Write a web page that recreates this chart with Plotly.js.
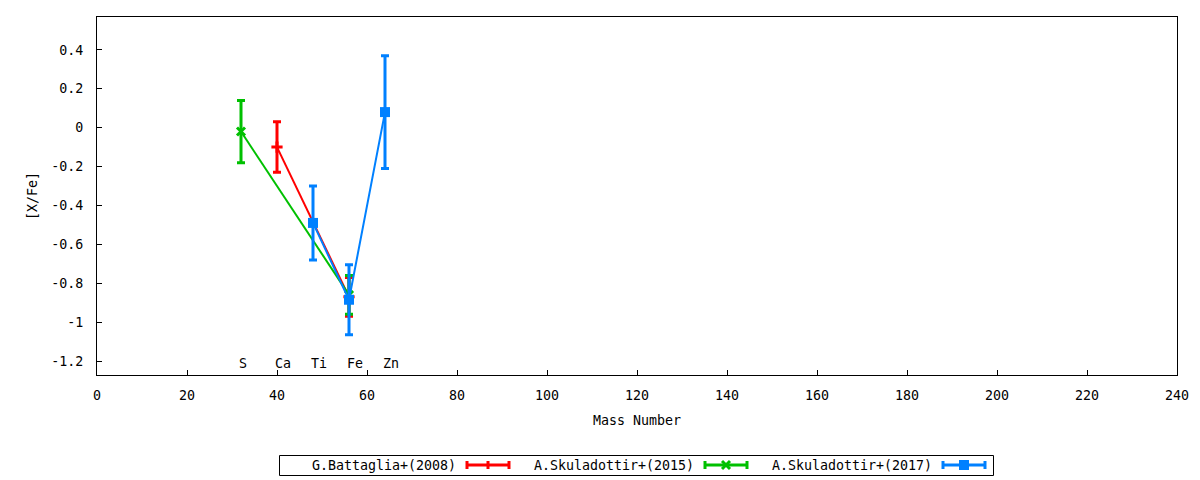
<!DOCTYPE html>
<html>
<head>
<meta charset="utf-8">
<script src="https://cdn.plot.ly/plotly-3.0.1.min.js"></script>
<style>html,body{margin:0;padding:0;background:#fff}#chart{width:1200px;height:480px}</style>
</head>
<body>
<div id="chart"></div>
<script>
// ---- data ----
const elementNames = ['S', 'Ca', 'Ti', 'Fe', 'Zn'];
const elementMass = [32, 40, 48, 56, 64];

const battagliaName = 'G.Battaglia+(2008)';
const battagliaMass = [40, 56];
const battagliaVal = [-0.10, -0.87];
const battagliaErr = [0.13, 0.10];

const skul2015Name = 'A.Skuladottir+(2015)';
const skul2015Mass = [32, 56];
const skul2015Val = [-0.02, -0.86];
const skul2015Err = [0.16, 0.10];

const skul2017Name = 'A.Skuladottir+(2017)';
const skul2017Mass = [48, 56, 64];
const skul2017Val = [-0.49, -0.885, 0.08];
const skul2017Err = [0.19, 0.18, 0.29];

const xTickVals = [0, 20, 40, 60, 80, 100, 120, 140, 160, 180, 200, 220, 240];
const yTickVals = [-1.2, -1, -0.8, -0.6, -0.4, -0.2, 0, 0.2, 0.4];
const yTickText = ['-1.2', '-1', '-0.8', '-0.6', '-0.4', '-0.2', '0', '0.2', '0.4'];

// ---- styles ----
const RED = '#ff0000', GREEN = '#00c000', BLUE = '#0080ff';
const FONT = 'DejaVu Sans Mono, monospace';
const FS = 13.3;
const M = {l: 97, r: 23, t: 17, b: 105};
const PW = 1200 - M.l - M.r, PH = 480 - M.t - M.b;
const px = x => (x - M.l) / PW;
const py = y => (480 - M.b - y) / PH;

function series(name, xs, ys, es, color, symbol, msize, mline) {
  return {
    type: 'scatter', mode: 'lines+markers', name: name,
    x: xs, y: ys,
    line: {color: color, width: 2},
    marker: {color: color, symbol: symbol, size: msize, line: {color: color, width: mline}},
    error_y: {type: 'data', array: es, visible: true, color: color, thickness: 3, width: 4},
    hoverinfo: 'skip', showlegend: false
  };
}

const traces = [
  series(battagliaName, battagliaMass, battagliaVal, battagliaErr, RED, 'cross-thin', 8, 3),
  series(skul2015Name, skul2015Mass, skul2015Val, skul2015Err, GREEN, 'x-thin', 8, 3),
  series(skul2017Name, skul2017Mass, skul2017Val, skul2017Err, BLUE, 'square', 10, 0)
];

const annotations = elementNames.map((n, i) => ({
  x: elementMass[i], y: -1.213, xref: 'x', yref: 'y', text: n, showarrow: false,
  xanchor: 'left', yanchor: 'middle', xshift: -4, font: {family: FONT, size: FS, color: '#000'}
}));

// manual legend (text first, then the sample, like the reference)
const shapes = [];
shapes.push({type: 'rect', xref: 'paper', yref: 'paper', x0: px(279.5), x1: px(993.5), y0: py(475.5), y1: py(455.5),
  line: {color: '#000', width: 1}, fillcolor: 'rgba(0,0,0,0)'});
const legendItems = [
  {name: battagliaName, color: RED, textEnd: 458, s0: 466, s1: 510, mark: 'plus'},
  {name: skul2015Name, color: GREEN, textEnd: 696, s0: 704, s1: 748, mark: 'x'},
  {name: skul2017Name, color: BLUE, textEnd: 934, s0: 942, s1: 986, mark: 'square'}
];
const LY = 465;
legendItems.forEach(it => {
  annotations.push({x: px(it.textEnd), y: py(LY), xref: 'paper', yref: 'paper', text: it.name, showarrow: false,
    xanchor: 'right', yanchor: 'middle', font: {family: FONT, size: FS, color: '#000'}});
  const L = (x0, y0, x1, y1, w) => shapes.push({type: 'line', xref: 'paper', yref: 'paper',
    x0: px(x0), y0: py(y0), x1: px(x1), y1: py(y1), line: {color: it.color, width: w || 3}});
  L(it.s0, LY, it.s1, LY);
  L(it.s0 + 1, LY - 4, it.s0 + 1, LY + 4);
  L(it.s1 - 1, LY - 4, it.s1 - 1, LY + 4);
  const c = (it.s0 + it.s1) / 2;
  if (it.mark === 'plus') L(c, LY - 4, c, LY + 4);
  if (it.mark === 'x') { L(c - 4, LY - 4, c + 4, LY + 4); L(c - 4, LY + 4, c + 4, LY - 4); }
  if (it.mark === 'square') shapes.push({type: 'rect', xref: 'paper', yref: 'paper',
    x0: px(c - 5), x1: px(c + 5), y0: py(LY + 5), y1: py(LY - 5), line: {width: 0}, fillcolor: it.color});
});

const layout = {
  width: 1200, height: 480,
  margin: M,
  paper_bgcolor: '#fff', plot_bgcolor: '#fff',
  font: {family: FONT, size: FS, color: '#000'},
  showlegend: false,
  xaxis: {
    range: [0, 240], tickvals: xTickVals, ticks: 'inside', ticklen: 5, tickcolor: '#000', tickwidth: 1,
    showline: true, mirror: true, linecolor: '#000', linewidth: 1, showgrid: false, zeroline: false,
    ticklabelstandoff: 8,
    title: {text: 'Mass Number', font: {family: FONT, size: FS}, standoff: 13},
    automargin: false
  },
  yaxis: {
    range: [-1.272, 0.569], tickvals: yTickVals, ticktext: yTickText, ticks: 'inside', ticklen: 5,
    tickcolor: '#000', tickwidth: 1,
    showline: true, mirror: true, linecolor: '#000', linewidth: 1, showgrid: false, zeroline: false,
    ticklabelstandoff: 10,
    title: {text: '[X/Fe]', font: {family: FONT, size: FS}, standoff: 10},
    automargin: false
  },
  annotations: annotations,
  shapes: shapes
};

Plotly.newPlot('chart', traces, layout, {displayModeBar: false, staticPlot: true});
</script>
</body>
</html>
